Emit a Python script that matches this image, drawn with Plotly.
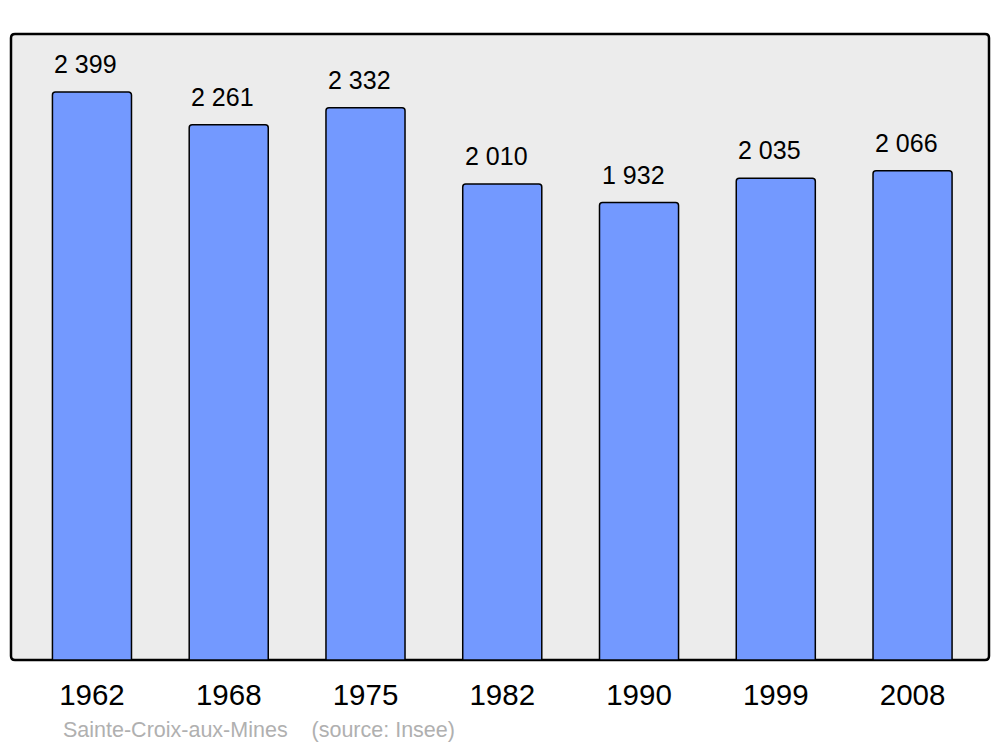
import plotly.graph_objects as go

# population data
years = ["1962", "1968", "1975", "1982", "1990", "1999", "2008"]
population = [2399, 2261, 2332, 2010, 1932, 2035, 2066]
value_labels = ["2 399", "2 261", "2 332", "2 010", "1 932", "2 035", "2 066"]
source_text = "Sainte-Croix-aux-Mines    (source: Insee)"

# the page body has an 8px margin, so the figure is drawn 8px smaller
OFF = 8
W, H = 1000 - OFF, 747 - OFF
L, R, T, B = 11 - OFF, 11, 34 - OFF, 87
pw, ph = W - L - R, H - T - B

fig = go.Figure(
    go.Bar(
        x=years,
        y=population,
        width=0.578,
        marker=dict(color="#7399ff", line=dict(color="#000000", width=1.5), cornerradius=3),
        hoverinfo="skip",
    )
)

# value labels above bars (category index positions)
for i, (val, lab) in enumerate(zip(population, value_labels)):
    fig.add_annotation(
        x=i, y=val, text=lab, showarrow=False,
        yanchor="bottom", yshift=12, xshift=-6,
        font=dict(size=25, color="#000000"),
    )

# rounded frame of the plot area
rx, ry = 4 / pw, 4 / ph
path = (
    f"M {rx},0 L {1-rx},0 Q 1,0 1,{ry} L 1,{1-ry} Q 1,1 {1-rx},1 "
    f"L {rx},1 Q 0,1 0,{1-ry} L 0,{ry} Q 0,0 {rx},0 Z"
)
fig.add_shape(
    type="path", path=path, xref="paper", yref="paper",
    fillcolor="#ececec", line=dict(color="#000000", width=2.5), layer="below",
)

fig.add_annotation(
    x=(61 - 11) / pw, y=(660 - 730) / ph, xref="paper", yref="paper",
    text=source_text, showarrow=False, xanchor="left", yanchor="middle",
    font=dict(size=21.5, color="#b0b0b0"),
)

fig.update_layout(
    width=W, height=H,
    margin=dict(l=L, r=R, t=T, b=B),
    paper_bgcolor="white",
    plot_bgcolor="white",
    font=dict(family="Liberation Sans, Arial, sans-serif"),
    showlegend=False,
    xaxis=dict(
        type="category",
        range=[-0.592, 6.559], showgrid=False, zeroline=False, showline=False,
        ticks="", tickfont=dict(size=29.5, color="#000000"), ticklabelstandoff=14,
    ),
    yaxis=dict(range=[0, 2644], visible=False, showgrid=False, zeroline=False),
)

fig.write_html("out.html")
